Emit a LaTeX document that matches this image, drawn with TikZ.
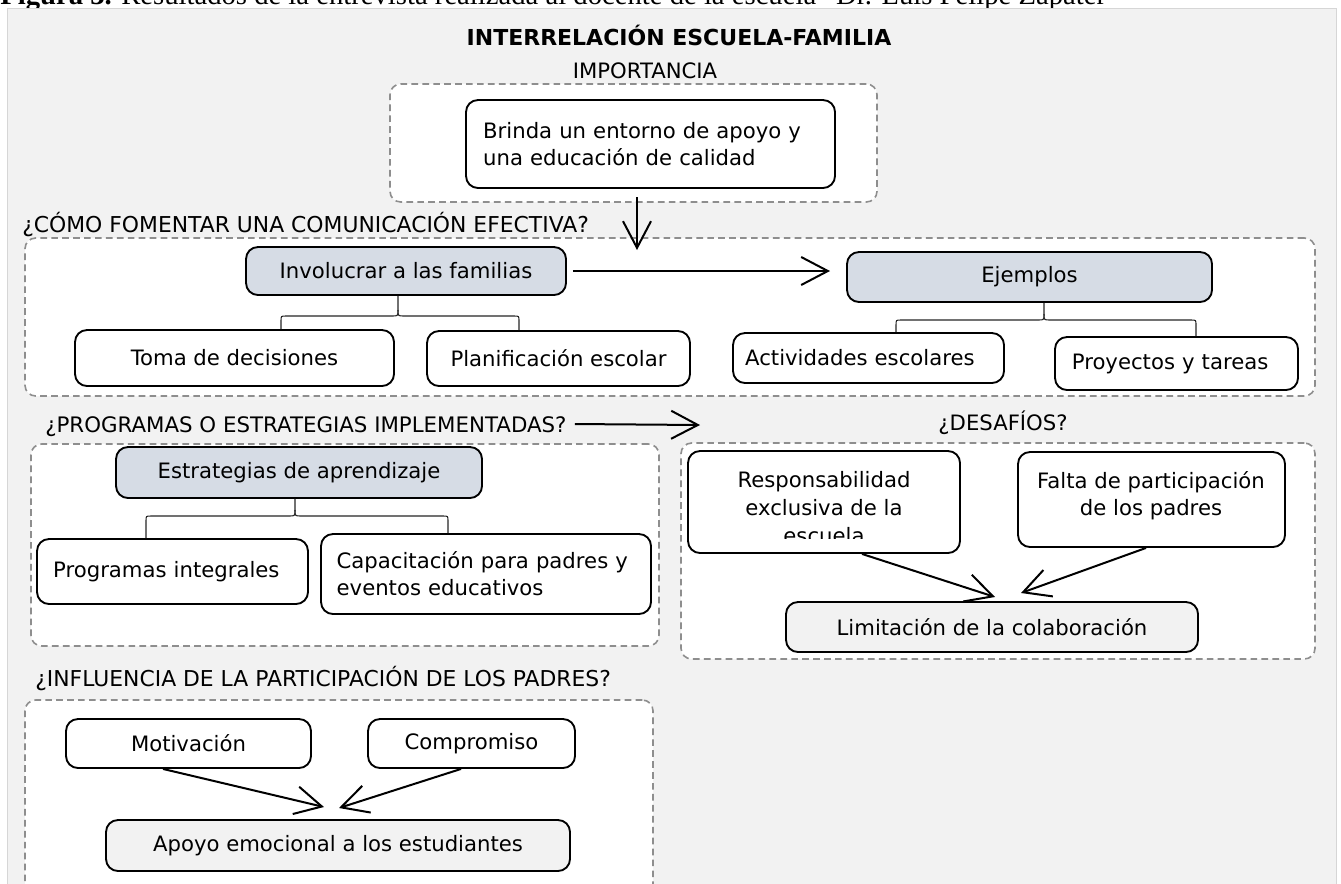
\documentclass[tikz,border=0pt]{standalone}
\usepackage{fontspec}
\setmainfont{DejaVu Sans}
\newfontfamily\capfont{Liberation Serif}
\usetikzlibrary{arrows.meta}
\definecolor{panelgray}{HTML}{F2F2F2}
\definecolor{panelborder}{HTML}{D6D6D6}
\definecolor{dashgray}{HTML}{8E8E8E}
\definecolor{hdrblue}{HTML}{D6DCE5}
\newcommand\mybox[7]{\node[#2, minimum width={(#5-#3)*0.75pt}, minimum height={(#6-#4)*0.75pt}] (#1) at ({(#3+#5)/2},{(#4+#6)/2}) {#7};}
% tip x, parent, mid y, left x, left child, right x, right child
\newcommand\mybrace[7]{%
  \draw[brace] (#2.south -| #1,0) -- (#1,#3-6) .. controls (#1,#3) .. (#1-6,#3) -- (#4+5,#3) .. controls (#4,#3) .. (#4,#3+5) -- (#5.north -| #4,0);
  \draw[brace] (#1,#3-6) .. controls (#1,#3) .. (#1+6,#3) -- (#6-5,#3) .. controls (#6,#3) .. (#6,#3+5) -- (#7.north -| #6,0);}
\begin{document}
\begin{tikzpicture}[x=0.75pt,y=-0.75pt,
  font=\fontsize{15.9}{20.25}\selectfont,
  group/.style={draw=dashgray, line width=1.2pt, dash pattern=on 5pt off 3.2pt, rounded corners=8pt, fill=white, inner sep=0pt},
  rbox/.style={draw=black, line width=1.4pt, rounded corners=9pt, fill=white, inner sep=0pt, align=center},
  hbox/.style={rbox, fill=hdrblue},
  gbox/.style={rbox, fill=panelgray},
  arr/.style={line width=1.5pt, -{Straight Barb[length=20pt, width=21pt]}},
  brace/.style={draw=black!85, line width=0.8pt},
  lbl/.style={anchor=base west, inner sep=0pt, font=\fontsize{16.4}{20.25}\selectfont},
  ctr/.style={anchor=base, inner sep=0pt}]
\useasboundingbox (0,0) rectangle (1341,883);
\clip (0,0) rectangle (1341,883);
% caption (cut at the top, as in the reference)
\node[anchor=base west, inner sep=0pt, font=\capfont\fontsize{21.5}{24}\selectfont] (cap) at (0,4)
  {\textbf{Figura 3.} Resultados de la entrevista realizada al docente de la escuela “Dr. Luis Felipe Zapater”};
% panel
\path[fill=panelgray, draw=panelborder, line width=0.75pt] (7,8) rectangle (1336,900);
% titles
\node[ctr, font=\fontsize{16.5}{20.25}\selectfont\bfseries] (title) at (679,45) {INTERRELACIÓN ESCUELA-FAMILIA};
\node[ctr] (limp) at (645,78) {IMPORTANCIA};
\node[lbl] (lcom) at (22,232) {¿CÓMO FOMENTAR UNA COMUNICACIÓN EFECTIVA?};
\node[lbl, font=\fontsize{16}{20.25}\selectfont] (lprog) at (45,432) {¿PROGRAMAS O ESTRATEGIAS IMPLEMENTADAS?};
\node[ctr] (ldes) at (1003,430) {¿DESAFÍOS?};
\node[lbl] (linf) at (35,686) {¿INFLUENCIA DE LA PARTICIPACIÓN DE LOS PADRES?};
% group boxes
\mybox{gimp}{group}{390}{84}{877}{202}{}
\mybox{gcom}{group}{25}{238}{1315}{396}{}
\mybox{gprog}{group}{31}{444}{659}{646}{}
\mybox{gdes}{group}{681}{443}{1315}{659}{}
\mybox{ginf}{group}{25}{700}{653}{900}{}
% boxes
\mybox{brinda}{rbox, align=left, text width=251pt}{466}{100}{835}{188}{Brinda un entorno de apoyo y\\una educación de calidad}
\mybox{inv}{hbox}{246}{247}{566}{295}{Involucrar a las familias}
\mybox{ejem}{hbox}{847}{252}{1212}{302}{Ejemplos}
\mybox{toma}{rbox}{75}{330}{394}{386}{Toma de decisiones}
\mybox{plan}{rbox}{427}{331}{690}{386}{Planificación escolar}
\mybox{activ}{rbox, align=left, text width=185pt}{733}{333}{1004}{383}{Actividades escolares}
\mybox{proy}{rbox, align=left, text width=157pt}{1055}{337}{1298}{390}{Proyectos y tareas}
\mybox{estr}{hbox}{116}{447}{482}{498}{Estrategias de aprendizaje}
\mybox{progint}{rbox, align=left, text width=179pt}{37}{539}{308}{604}{Programas integrales}
\mybox{capac}{rbox, align=left, text width=224pt}{321}{534}{651}{614}{Capacitación para padres y\\eventos educativos}
\mybox{resp}{rbox}{688}{451}{960}{553}{}
\node[ctr] (resp1) at (824,487) {Responsabilidad};
\node[ctr] (resp2) at (824,515) {exclusiva de la};
\begin{scope}
  \clip (690,452) rectangle (958,538);
  \node[ctr] (resp3) at (824,543) {escuela};
\end{scope}
\mybox{falta}{rbox}{1018}{452}{1285}{547}{}
\node[ctr] (falta1) at (1151,488) {Falta de participación};
\node[ctr] (falta2) at (1151,515) {de los padres};
\mybox{limit}{gbox}{786}{602}{1198}{652}{Limitación de la colaboración}
\mybox{motiv}{rbox}{66}{719}{311}{768}{Motivación}
\mybox{compr}{rbox}{368}{719}{575}{768}{Compromiso}
\mybox{apoyo}{gbox}{106}{820}{570}{871}{Apoyo emocional a los estudiantes}
% braces
\mybrace{398}{inv}{316}{281}{toma}{519}{plan}
\mybrace{1044}{ejem}{320}{896}{activ}{1196}{proy}
\mybrace{295}{estr}{516}{146}{progint}{448}{capac}
% arrows
\coordinate (a1s) at (637,197);
\coordinate (a1e) at (637,250);
\draw[arr] (a1s) -- (a1e);
\coordinate (a2e) at (830,271);
\draw[arr] ([xshift=4.5pt]inv.east) -- (a2e);
\coordinate (a3e) at (700,425);
\draw[arr] ([xshift=6pt]lprog.base east) ++(0,-8) -- (a3e);
\coordinate (d1e) at (995,597);
\coordinate (d2e) at (1021,593);
\draw[arr] (resp.south -| 862,0) -- (d1e);
\draw[arr] (falta.south -| 1146,0) -- (d2e);
\coordinate (i1e) at (324,807);
\coordinate (i2e) at (339,808);
\draw[arr] (motiv.south -| 163,0) -- (i1e);
\draw[arr] (compr.south -| 461,0) -- (i2e);
\end{tikzpicture}
\end{document}
